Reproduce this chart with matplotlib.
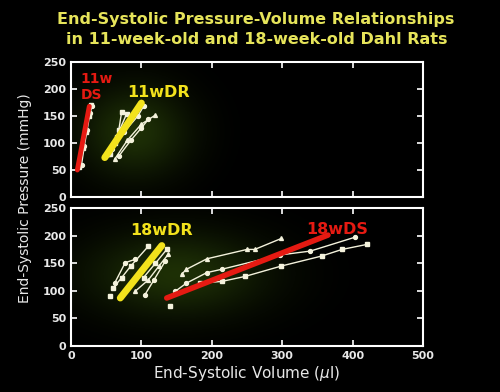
import numpy as np
import matplotlib
matplotlib.use("Agg")
import matplotlib.pyplot as plt

# 11 week old rats - individual ESPVR lines (volume ul, pressure mmHg)
ds11_lines = [
    ([12, 17, 21, 25, 28], [55, 90, 120, 150, 170]),
    ([15, 19, 23, 27, 30], [60, 95, 125, 155, 168]),
]
ds11_fit = ([9, 26], [50, 168])

dr11_lines = [
    ([55, 62, 68, 72], [80, 100, 125, 158]),
    ([58, 75, 95, 103], [88, 120, 150, 168]),
    ([62, 80, 100, 119], [70, 105, 135, 151]),
    ([68, 85, 100, 110], [76, 105, 128, 144]),
    ([52, 65, 79], [80, 112, 154]),
]
dr11_fit = ([48, 100], [73, 174])

# 18 week old rats
dr18_lines = [
    ([60, 72, 85, 110], [105, 124, 145, 181]),
    ([62, 77, 91], [114, 151, 157]),
    ([91, 110, 125, 138], [99, 120, 145, 166]),
    ([105, 118, 134], [93, 120, 154]),
    ([103, 120, 136], [124, 150, 175]),
]
dr18_single = ([55], [90])
dr18_fit = ([70, 129], [87, 182])

ds18_lines = [
    ([157, 164, 193, 250, 261, 299], [130, 139, 158, 175, 175, 195]),
    ([148, 164, 193, 214, 297, 340, 403], [99, 114, 133, 139, 165, 172, 197]),
    ([183, 214, 247, 299, 356, 385, 420], [114, 117, 126, 145, 163, 175, 184]),
]
ds18_single = ([141], [73])
ds18_fit = ([136, 365], [87, 201])

red = "#e51a12"
yellow = "#f2e21c"
white = "#f4f2dc"
title_col = "#e6e45a"

fig = plt.figure(figsize=(5, 3.92), dpi=100)
fig.patch.set_facecolor("black")

ax1 = fig.add_axes([0.142, 0.4974, 0.704, 0.3444])
ax2 = fig.add_axes([0.142, 0.1173, 0.704, 0.352])

markers = ["s", "o", "^", "o", "s"]


def glow(ax, cx, cy, sx, sy):
    # faint green halo behind the data, like the slide
    gx, gy = np.meshgrid(np.linspace(0, 500, 200), np.linspace(0, 250, 100))
    a = np.exp(-((gx - cx) ** 2 / (2 * sx ** 2) + (gy - cy) ** 2 / (2 * sy ** 2)))
    img = np.zeros((100, 200, 4))
    img[..., 0] = 0.14
    img[..., 1] = 0.22
    img[..., 2] = 0.03
    img[..., 3] = a * 0.85
    ax.imshow(img, extent=(0, 500, 0, 250), origin="lower", aspect="auto", zorder=0)


for ax in (ax1, ax2):
    ax.set_facecolor("black")
    ax.tick_params(direction="in", top=True, right=True, length=4, width=1.2,
                   color="white", labelcolor="#e8e8e8", labelsize=8)

glow(ax1, 90, 120, 55, 60)
glow(ax2, 150, 130, 90, 55)

for ax in (ax1, ax2):
    ax.set_xlim(0, 500)
    ax.set_ylim(0, 250)
    ax.set_xticks(np.arange(0, 501, 100))
    ax.set_yticks(np.arange(0, 251, 50))
    for lab in ax.get_xticklabels() + ax.get_yticklabels():
        lab.set_fontweight("bold")
    for s in ax.spines.values():
        s.set_color("white")
        s.set_linewidth(1.5)

ax1.tick_params(labelbottom=False)

# top panel
for i, (x, y) in enumerate(ds11_lines):
    ax1.plot(x, y, color=white, lw=1.0, marker=markers[i], ms=2.8)
ax1.plot(*ds11_fit, color=red, lw=3.5, solid_capstyle="round")
for i, (x, y) in enumerate(dr11_lines):
    ax1.plot(x, y, color=white, lw=1.0, marker=markers[i], ms=2.8)
ax1.plot(*dr11_fit, color=yellow, lw=5, solid_capstyle="round")

ax1.text(37, 219, "11w", color=red, fontsize=10, fontweight="bold", ha="center", va="center")
ax1.text(29, 188, "DS", color=red, fontsize=10, fontweight="bold", ha="center", va="center")
ax1.text(124, 194, "11wDR", color=yellow, fontsize=11.5, fontweight="bold", ha="center", va="center")

# bottom panel
for i, (x, y) in enumerate(dr18_lines):
    ax2.plot(x, y, color=white, lw=1.0, marker=markers[i], ms=2.8)
ax2.plot(*dr18_single, color=white, marker="s", ms=3.2, ls="none")
ax2.plot(*dr18_fit, color=yellow, lw=5, solid_capstyle="round")
for i, (x, y) in enumerate(ds18_lines):
    ax2.plot(x, y, color=white, lw=1.0, marker=markers[i + 2], ms=2.8)
ax2.plot(*ds18_single, color=white, marker="s", ms=3.2, ls="none")
ax2.plot(*ds18_fit, color=red, lw=4, solid_capstyle="round")

ax2.text(129, 210, "18wDR", color=yellow, fontsize=11.5, fontweight="bold", ha="center", va="center")
ax2.text(378, 212, "18wDS", color=red, fontsize=11.5, fontweight="bold", ha="center", va="center")

ax2.set_xlabel("End-Systolic Volume ($\\mu$l)", color="#e8e8e8", fontsize=11, labelpad=2)

fig.text(0.05, 0.495, "End-Systolic Pressure (mmHg)", color="#e8e8e8", fontsize=10,
         rotation=90, ha="center", va="center")

fig.text(0.512, 0.949, "End-Systolic Pressure-Volume Relationships", color=title_col,
         fontsize=11.5, fontweight="bold", ha="center", va="center")
fig.text(0.514, 0.898, "in 11-week-old and 18-week-old Dahl Rats", color=title_col,
         fontsize=11.5, fontweight="bold", ha="center", va="center")

fig.savefig("out.png", dpi=100, facecolor="black")
